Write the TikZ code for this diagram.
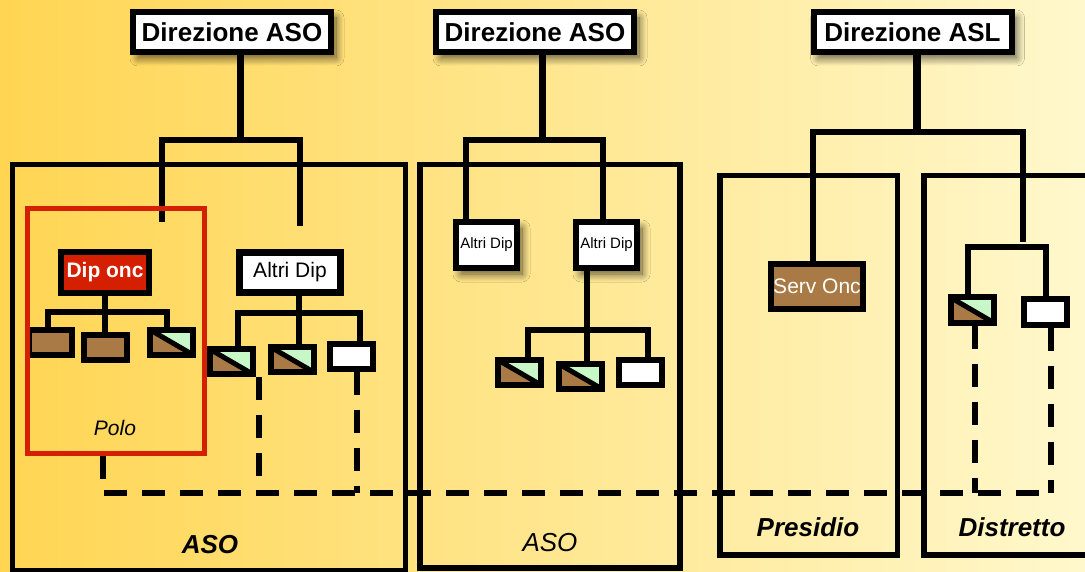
\documentclass[tikz,border=0pt]{standalone}
\usepackage{fontspec}
\setmainfont{Liberation Sans}
\usetikzlibrary{shadows.blur}
\definecolor{bgleft}{RGB}{255,213,82}
\definecolor{bgright}{RGB}{255,248,204}
\definecolor{brownc}{RGB}{169,122,69}
\definecolor{greenc}{RGB}{200,248,200}
\definecolor{redc}{RGB}{212,32,0}

\begin{document}
\begin{tikzpicture}[x=1pt,y=-1pt,
  softshadow/.style={blur shadow={shadow xshift=5pt, shadow yshift=-6pt,
      shadow blur radius=8pt, shadow blur steps=12, shadow opacity=65}},
  hdr/.style={draw, line width=6pt, fill=white, minimum width=198pt,
      minimum height=40pt, inner sep=0pt, softshadow,
      font=\fontsize{26}{28}\selectfont\bfseries},
  dipbox/.style={draw, line width=6.5pt, fill=redc, text=white,
      minimum width=88pt, minimum height=41pt, inner sep=0pt,
      font=\fontsize{21}{23}\selectfont\bfseries},
  altbox/.style={draw, line width=6.5pt, fill=white,
      minimum width=101pt, minimum height=40pt, inner sep=0pt,
      font=\fontsize{21}{23}\selectfont},
  smallalt/.style={draw, line width=6pt, fill=white, softshadow,
      minimum width=61pt, minimum height=46pt, inner sep=0pt,
      font=\fontsize{15}{17}\selectfont},
  servbox/.style={draw, line width=6pt, fill=brownc, text=white,
      minimum width=92pt, minimum height=45pt, inner sep=0pt,
      font=\fontsize{21}{23}\selectfont},
  sbox/.style={draw, line width=6pt, minimum width=43pt,
      minimum height=25pt, inner sep=0pt},
  brownbox/.style={sbox, fill=brownc},
  whitebox/.style={sbox, fill=white},
  splitbox/.style={sbox, fill=greenc,
      path picture={
        \fill[brownc] (path picture bounding box.north west)
          -- (path picture bounding box.south east)
          -- (path picture bounding box.south west) -- cycle;
        \draw[line width=5pt] (path picture bounding box.north west)
          -- (path picture bounding box.south east);}},
  frame/.style={draw, line width=5.5pt},
  conn/.style={draw, line width=5.5pt},
  stem/.style={draw, line width=7pt},
  dashline/.style={draw, line width=5.5pt, dash pattern=on 23pt off 15pt},
  bigbold/.style={font=\fontsize{26}{28}\selectfont\bfseries\itshape},
  bigital/.style={font=\fontsize{26}{28}\selectfont\itshape}
]
\useasboundingbox (0,0) rectangle (1085,572);
\fill[left color=bgleft, right color=bgright] (0,0) rectangle (1085,572);

% organisational frames
\draw[frame] (12.5,164.5) rectangle (405.5,571);
\draw[frame] (420,164.5) rectangle (680,568);
\draw[frame] (720,175.5) rectangle (897.5,555);
\draw[frame] (924,175.5) rectangle (1095,555);

\node[bigbold] (lab1) at (210,545) {ASO};
\node[bigital] (lab2) at (550,543) {ASO};
\node[bigbold] (lab3) at (808,527) {Presidio};
\node[bigbold] (lab4) at (1012,527) {Distretto};

% ---------- first ASO ----------
\node[hdr] (h1) at (232,32) {Direzione ASO};
\coordinate (j1) at (240,140);
\coordinate (e1a) at (162,222);
\coordinate (e1b) at (300,226);
\draw[stem] (h1.south -| j1) -- (j1);
\draw[conn] (e1a) |- (j1) -| (e1b);

\node[dipbox] (dip) at (105,272.5) {Dip onc};
\node[brownbox] (b1) at (50,342.5) {};
\node[brownbox] (b2) at (105.5,347) {};
\node[splitbox] (b3) at (171,342) {};
\coordinate (t1) at (105,312);
\draw[conn] (dip.south) -- (t1);
\draw[conn] ([xshift=-2pt]b1.north) |- (t1) -| ([xshift=-4pt]b3.north);
\draw[conn] (t1) -- (t1 |- b2.north);

\node[altbox] (alt) at (290,272.5) {Altri Dip};
\node[splitbox] (b4) at (231,361.5) {};
\node[splitbox] (b5) at (292,359.5) {};
\node[whitebox] (b6) at (351.5,356) {};
\coordinate (t2) at (299,313);
\draw[conn] (alt.south -| t2) -- (t2);
\draw[conn] ([xshift=7pt]b4.north) |- (t2) -| ([xshift=8.5pt]b6.north);
\draw[conn] (t2) -- (t2 |- b5.north);

\node[draw=redc, line width=5.5pt, minimum width=177pt, minimum height=245pt,
      inner sep=0pt] (polo) at (116,331) {};
\node[font=\fontsize{21}{23}\selectfont\itshape] (polol) at (115,428) {Polo};

% ---------- second ASO ----------
\node[hdr] (h2) at (535,32) {Direzione ASO};
\coordinate (j2) at (542,140);
\draw[stem] (h2.south -| j2) -- (j2);
\node[smallalt] (m1) at (486.5,245) {Altri Dip};
\node[smallalt] (m2) at (606.5,245) {Altri Dip};
\draw[conn] ([xshift=-20.5pt]m1.north) |- (j2) -| ([xshift=-3.5pt]m2.north);

\node[splitbox] (c1) at (519.5,372.5) {};
\node[splitbox] (c2) at (580.5,376.5) {};
\node[whitebox] (c3) at (640,372.5) {};
\coordinate (t3) at (587,330);
\draw[conn] (m2.south -| t3) -- (t3);
\draw[conn] ([xshift=8.5pt]c1.north) |- (t3) -| ([xshift=8pt]c3.north);
\draw[conn] (t3) -- (t3 |- c2.north);

% ---------- ASL ----------
\node[hdr] (h3) at (912.5,32) {Direzione ASL};
\coordinate (j3) at (917,132);
\coordinate (e3) at (1023,242);
\draw[stem, line width=8pt] (h3.south -| j3) -- (j3);
\node[servbox] (serv) at (817,286.5) {Serv Onc};
\draw[conn] ([xshift=-4pt]serv.north) |- (j3) -| (e3);

\node[splitbox] (d1) at (972,310) {};
\node[whitebox] (d2) at (1045.5,312) {};
\coordinate (t4) at (1007,247);
\draw[conn] ([xshift=-4pt]d1.north) |- (t4) -| ([xshift=0.5pt]d2.north);

% ---------- dashed links ----------
\coordinate (dl) at (103,493);
\coordinate (dr) at (1046,493);
\draw[dashline] ([xshift=-13pt]polo.south) -- (dl) -- (dr);
\coordinate (v1) at ([xshift=28pt]b4.south);
\coordinate (v2) at ([xshift=5.5pt]b6.south);
\coordinate (v3) at ([xshift=3pt]d1.south);
\coordinate (v4) at ([xshift=5.5pt]d2.south);
\draw[dashline] (v1) -- (v1 |- dl);
\draw[dashline] (v2) -- (v2 |- dl);
\draw[dashline] (v3) -- (v3 |- dl);
\draw[dashline] (v4) -- (v4 |- dl);
\end{tikzpicture}
\end{document}
